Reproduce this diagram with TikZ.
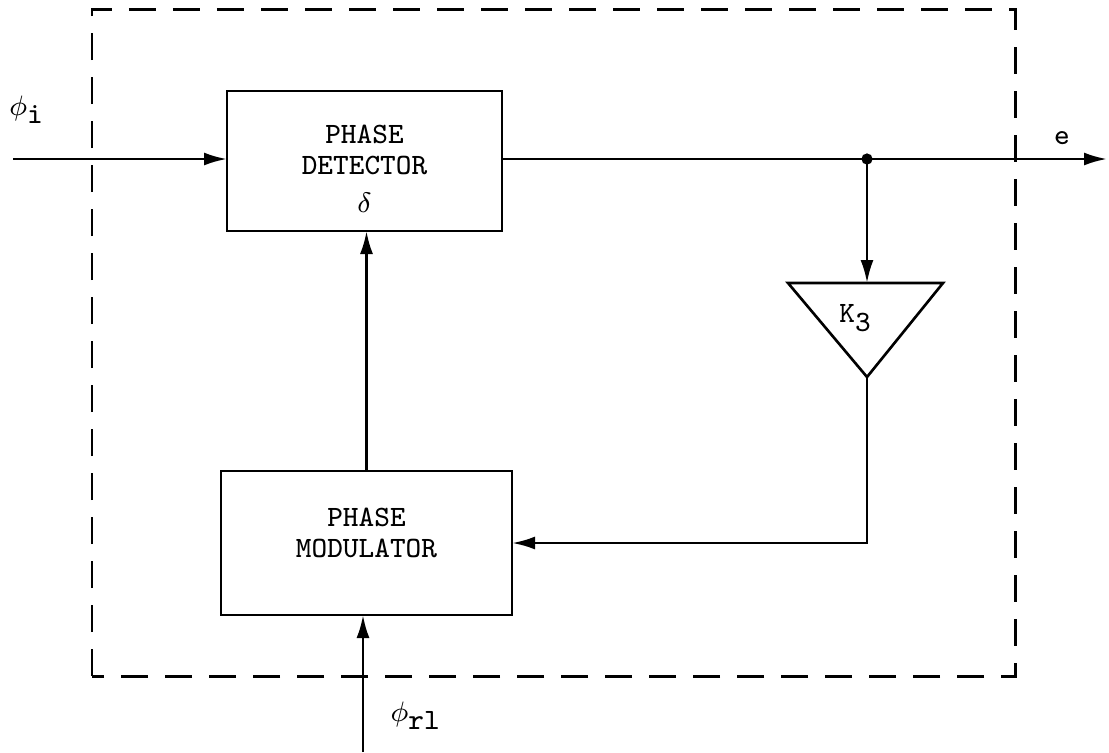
\documentclass[tikz,border=0pt]{standalone}
\usepackage{amsmath,amssymb}
\usepackage{tikz}
\usetikzlibrary{arrows.meta,calc}

\tikzset{
    blockbox/.style={draw, rectangle, inner sep=0pt, outer sep=0pt, align=center},
}

\begin{document}
\begin{tikzpicture}[>={Latex[length=2.3mm,width=1.3mm]}, line width=0.75pt,
    font=\ttfamily\fontsize{8.4}{8.8}\selectfont]
    \useasboundingbox (0,0) rectangle (11.09,7.52);

    % 虚线外框
    \draw[line width=0.85pt, dash pattern=on 2.7mm off 1.7mm] (0.92,0.76) rectangle (10.15,7.43);

    % 方框
    \node[blockbox, minimum width=2.75cm, minimum height=1.40cm] (det) at (3.645,5.91)
        {\rule{0pt}{3.4mm}PHASE\\DETECTOR\\[2pt]$\delta$};
    \node[blockbox, minimum width=2.91cm, minimum height=1.44cm] (mod) at (3.665,2.09)
        {PHASE\\MODULATOR\rule[-2mm]{0pt}{0pt}};

    % 放大器 K3（三角形）
    \coordinate (ampin) at (8.67,4.69);
    \coordinate (ampout) at (8.67,3.75);
    \draw (7.88,4.69) -- (9.43,4.69) -- (ampout) -- cycle;
    \node (amp) at (8.56,4.34) {K$_{\mbox{\ttfamily 3}}$};

    % 输入、输出端点
    \coordinate (phin) at (0.13,5.93);
    \coordinate (eout) at (11.07,5.93);
    \coordinate (jn) at (8.67,5.93);
    \coordinate (phir) at (3.63,0);

    % 连线
    \draw[->] (phin) -- (phin -| det.west);
    \draw[->] (det.east |- jn) -- (eout);
    \fill (jn) circle (1.6pt);
    \draw[->] (jn) -- (ampin);
    \draw[->] (ampout) |- (mod.east);
    \draw[->] (mod.north) -- (mod.north |- det.south);
    \draw[->] (phir) -- (phir |- mod.south);

    % 信号名称
    \node (phii) at (0.27,6.42) {$\phi_{\mbox{\ttfamily i}}$};
    \node (elbl) at (10.62,6.14) {e};
    \node (phirl) at (4.16,0.36) {$\phi_{\mbox{\ttfamily rl}}$};
\end{tikzpicture}
\end{document}
